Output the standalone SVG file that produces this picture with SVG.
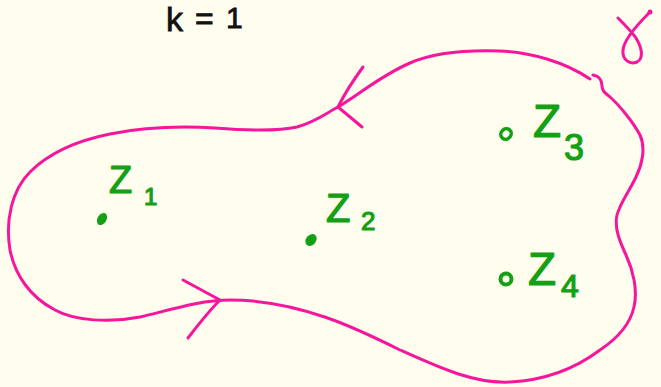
<svg xmlns="http://www.w3.org/2000/svg" width="661" height="387" viewBox="0 0 661 387">
  <style>
    .bg { fill: #FFFDEE; }
    .pink { fill: none; stroke: #F5169C; stroke-width: 3; stroke-linecap: round; stroke-linejoin: round; }
    .ink { font-family: "Liberation Sans", Arial, sans-serif; fill: #111111; stroke: #111111; stroke-width: 0.8; }
    .lbl { font-family: "Liberation Sans", Arial, sans-serif; fill: #14A014; stroke: #14A014; stroke-width: 1.2; stroke-linejoin: round; }
    .dot { fill: #14A014; }
  </style>
  <rect class="bg" x="0" y="0" width="661" height="387"/>

  <g id="title">
    <text class="ink" x="166" y="31" font-size="34">k</text>
    <text class="ink" x="195" y="29" font-size="32">=</text>
    <text class="ink" x="226" y="28" font-size="30">1</text>
  </g>

  <g id="gamma-label">
    <path class="pink" d="M618,18 C625,25 632,32 636,38 C642,48 644,58 637,62 C630,65 622,60 623,50 C624,40 636,26 649,13"/>
    <circle cx="650" cy="12" r="2.5" fill="#F5169C"/>
  </g>

  <g id="connectors">
    <path id="contour" class="pink" d="M593,75 C599,76 602,80 602,86 C602,91 605,93 610,97 C620,106 633,122 640,135 C646,148 642,165 636,177 C630,190 620,203 617,215 C614,228 620,242 626,255 C633,270 638,290 634,307 C630,325 615,340 600,350 C580,365 550,380 510,382 C475,384 440,368 400,350 C360,330 300,300 230,300 C200,300 170,310 140,317 C110,323 75,321 55,310 C30,297 15,275 10,250 C5,220 12,190 30,172 C50,152 80,140 110,134 C140,128 180,126 215,128 C240,130 275,132 297,127 C315,122 325,114 338,107 C360,94 380,76 410,63 C435,52 470,50 500,51 C530,52 565,62 590,79"/>
    <path id="arrow-top" class="pink" d="M363,67 C352,82 344,95 338,107 L362,127"/>
    <path id="arrow-bottom" class="pink" d="M183,280 L220,300 C208,312 198,325 188,338"/>
  </g>

  <g id="z1">
    <ellipse class="dot" cx="102" cy="219" rx="4.5" ry="6.5" transform="rotate(30 102 219)"/>
    <text class="lbl" x="109" y="193" font-size="38">Z</text>
    <text class="lbl" x="144" y="205" font-size="24">1</text>
  </g>

  <g id="z2">
    <ellipse class="dot" cx="311" cy="240" rx="5" ry="6.5" transform="rotate(40 311 240)"/>
    <text class="lbl" x="326" y="222" font-size="40">Z</text>
    <text class="lbl" x="361" y="230" font-size="26">2</text>
  </g>

  <g id="z3">
    <ellipse cx="506" cy="134" rx="5" ry="5.5" fill="none" stroke="#14A014" stroke-width="3.5" transform="rotate(40 506 134)"/>
    <text class="lbl" x="533" y="137" font-size="46">Z</text>
    <text class="lbl" x="564" y="160" font-size="36">3</text>
  </g>

  <g id="z4">
    <circle cx="506" cy="279" r="5.5" fill="none" stroke="#14A014" stroke-width="4"/>
    <text class="lbl" x="528" y="285" font-size="46">Z</text>
    <text class="lbl" x="561" y="297" font-size="32">4</text>
  </g>
</svg>
